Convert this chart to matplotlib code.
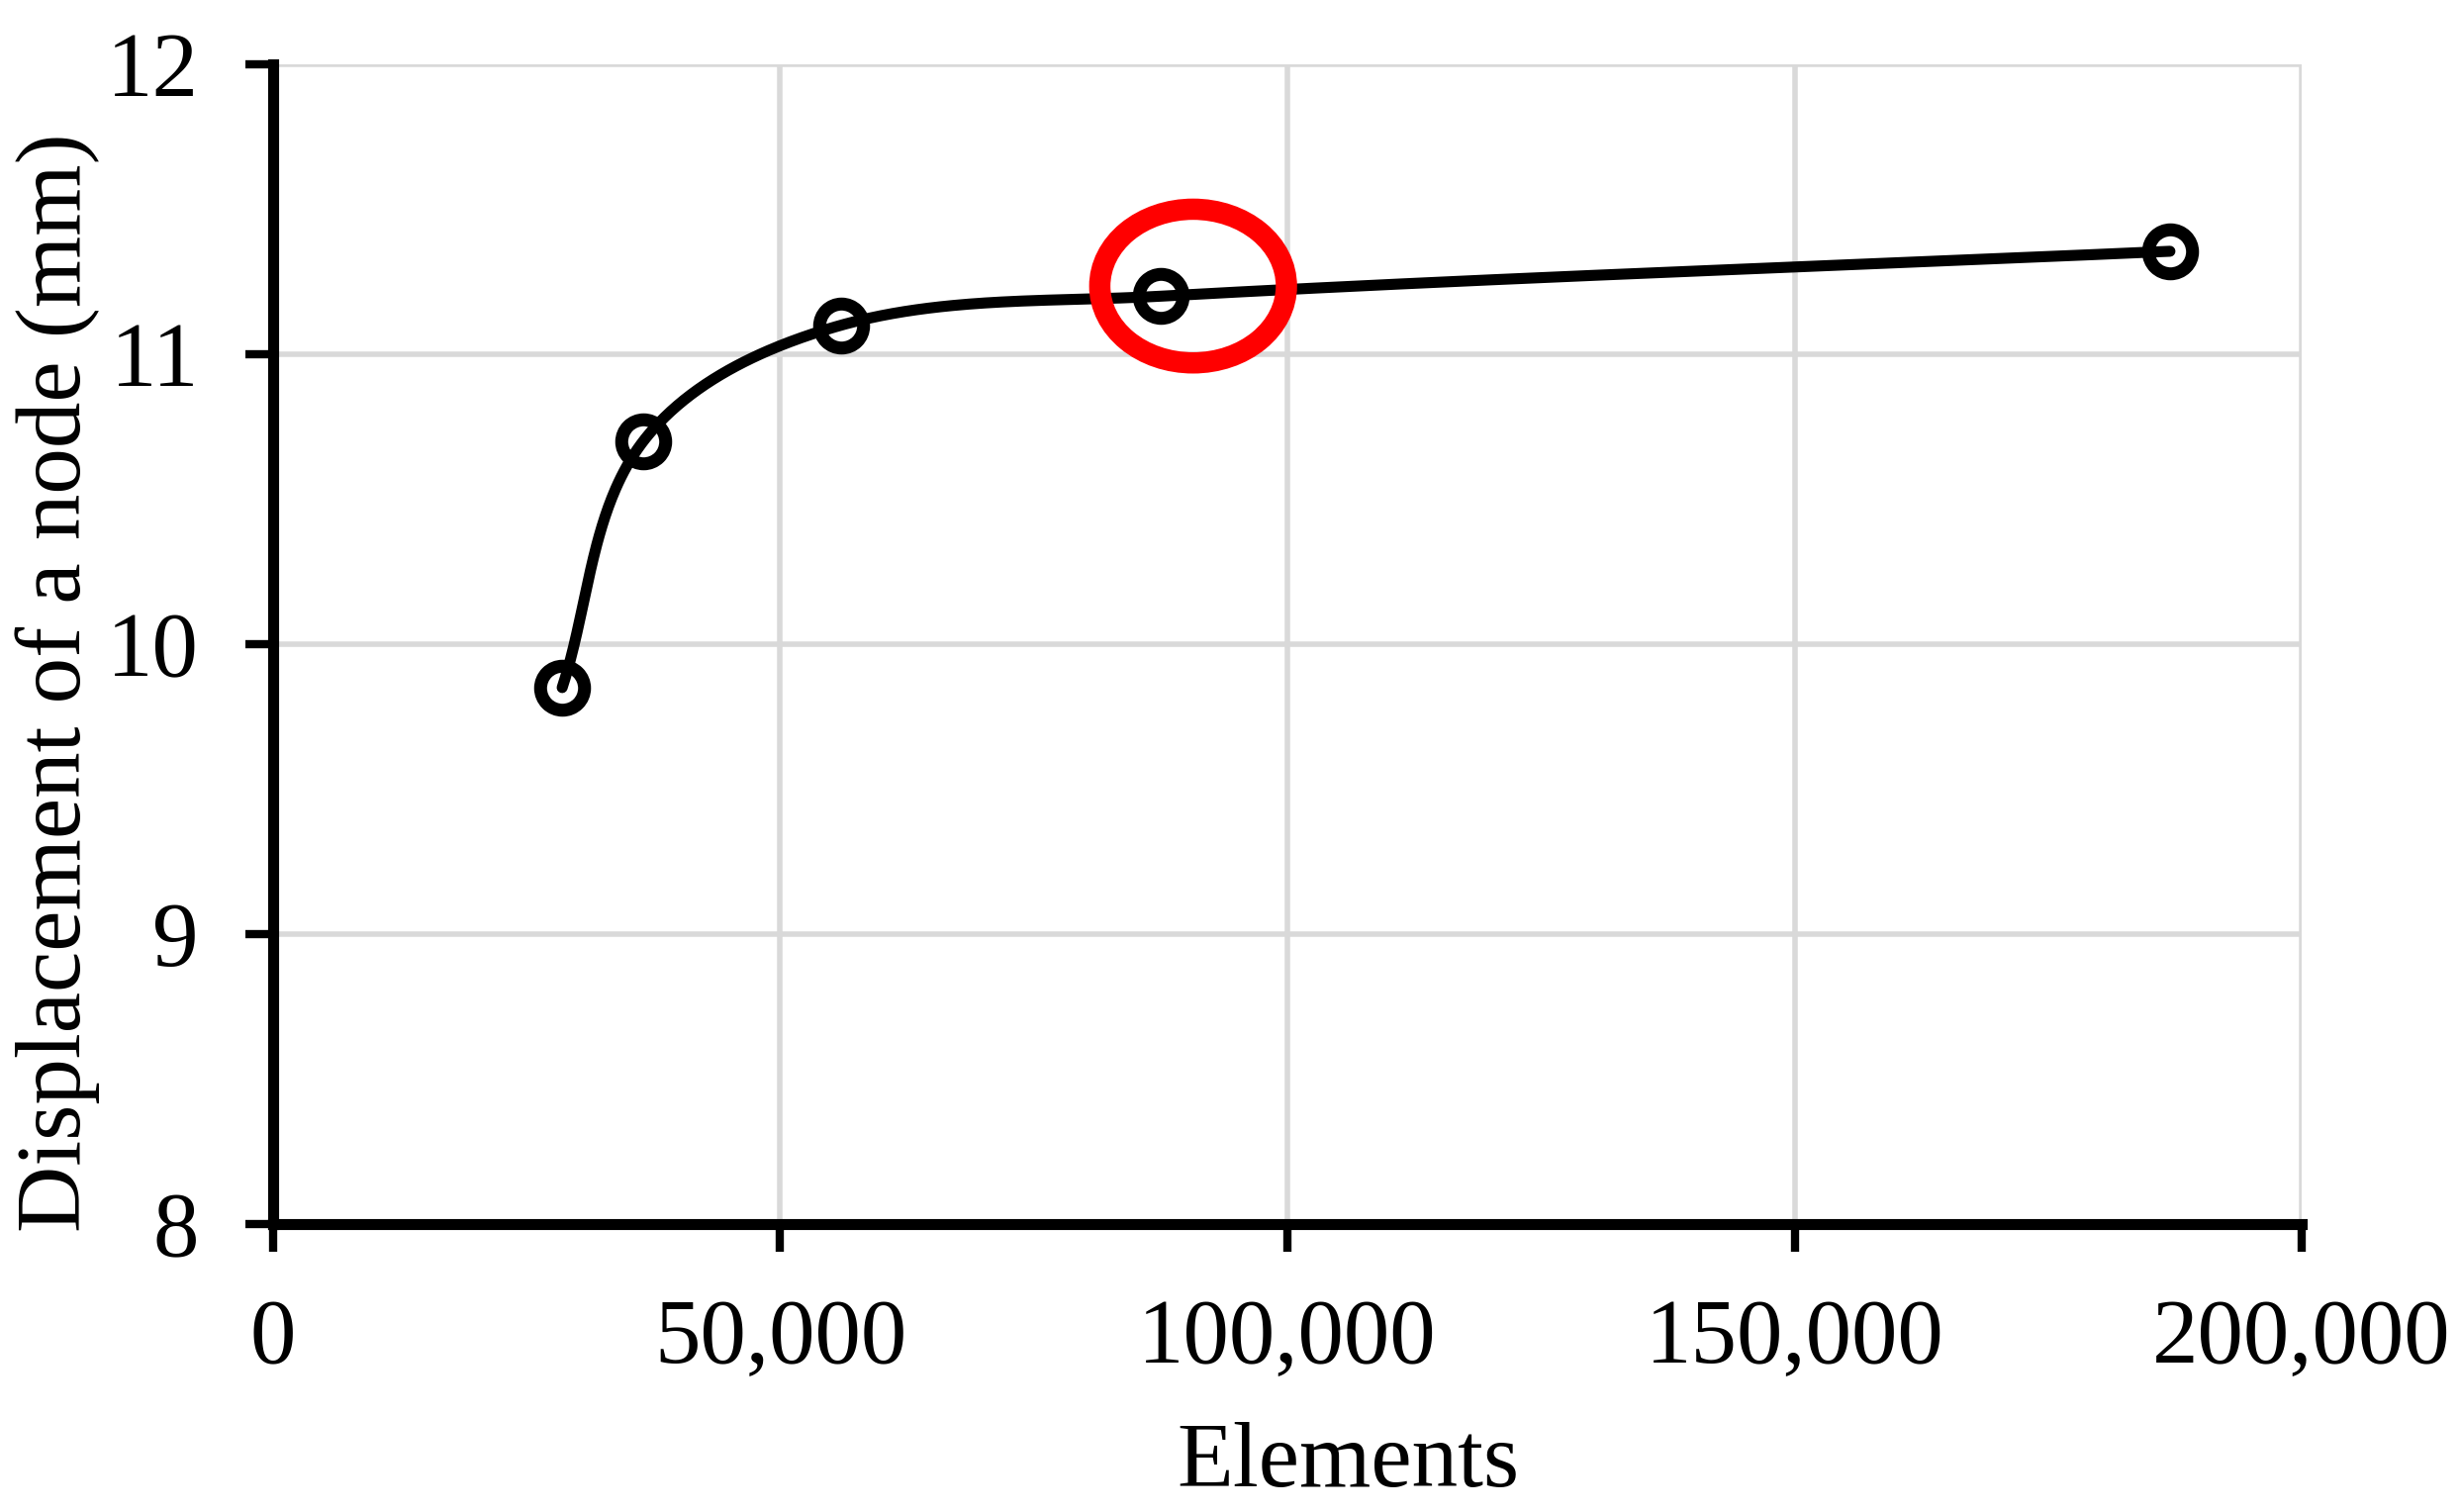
import numpy as np
import matplotlib
matplotlib.use("Agg")
import matplotlib.pyplot as plt
from matplotlib.patches import Ellipse
from matplotlib.ticker import FuncFormatter

# data
elements = [28500, 36500, 56000, 87500, 187000]
displacement = [9.85, 10.70, 11.10, 11.20, 11.355]
x_ticks = [0, 50000, 100000, 150000, 200000]
y_ticks = [8, 9, 10, 11, 12]

# highlighted point (red ring)
ring_center = (90700, 11.235)
ring_size = (18400, 0.53)

plt.rcParams['font.family'] = ['Liberation Serif', 'DejaVu Serif']


def smooth_curve(xs, ys, sx, sy, n=80):
    # smoothed line like a spreadsheet chart: cubic bezier through the points,
    # tangent from the neighbours, handle length scaled to the segment length
    p = np.column_stack([np.asarray(xs) / sx, np.asarray(ys) / sy])
    m = len(p)
    tang = np.zeros_like(p)
    for i in range(m):
        a = p[max(i - 1, 0)]
        b = p[min(i + 1, m - 1)]
        d = b - a
        tang[i] = d / np.hypot(*d)
    out = []
    t = np.linspace(0, 1, n)[:, None]
    for i in range(m - 1):
        p0, p3 = p[i], p[i + 1]
        L = np.hypot(*(p3 - p0))
        p1 = p0 + tang[i] * L / 3
        p2 = p3 - tang[i + 1] * L / 3
        seg = ((1 - t) ** 3) * p0 + 3 * ((1 - t) ** 2) * t * p1 + 3 * (1 - t) * t ** 2 * p2 + t ** 3 * p3
        out.append(seg)
    c = np.vstack(out)
    return c[:, 0] * sx, c[:, 1] * sy


fig = plt.figure(figsize=(24.86, 15.28), dpi=100)
ax = fig.add_axes([0.111, 0.1905, 0.8247, 0.767])

ax.set_xlim(0, 200000)
ax.set_ylim(8, 12)

# axis box is 2050 x 1172 px
sx = 200000 / 2050.0
sy = 4 / 1172.0
cx, cy = smooth_curve(elements, displacement, sx, sy)
ax.plot(cx, cy, color='black', lw=8, zorder=3, solid_capstyle='round')
ax.plot(elements, displacement, linestyle='none', marker='o', markersize=32,
        markerfacecolor='none', markeredgecolor='black', markeredgewidth=9.4, zorder=4)

ring = Ellipse(ring_center, ring_size[0], ring_size[1], fill=False,
               edgecolor='#ff0000', lw=15.5, zorder=5, clip_on=False)
ax.add_patch(ring)

ax.set_xticks(x_ticks)
ax.set_yticks(y_ticks)
ax.xaxis.set_major_formatter(FuncFormatter(lambda v, p: f"{int(v):,}"))
ax.grid(True, color='#d9d9d9', lw=4)
ax.set_axisbelow(True)

for s in ['top', 'right']:
    ax.spines[s].set_visible(False)
for s in ['left', 'bottom']:
    ax.spines[s].set_linewidth(8)
    ax.spines[s].set_color('black')

ax.tick_params(axis='both', direction='out', length=20, width=6, labelsize=67,
               pad=34, colors='black')

ax.set_xlabel('Elements', fontsize=67)
ax.set_ylabel('Displacement of a node (mm)', fontsize=67)
ax.yaxis.label.set_va('center')
ax.xaxis.label.set_va('center')
ax.xaxis.set_label_coords(0.53, -0.207)
ax.yaxis.set_label_coords(-0.106, 0.467)

fig.savefig('out.png', dpi=100, facecolor='white')
